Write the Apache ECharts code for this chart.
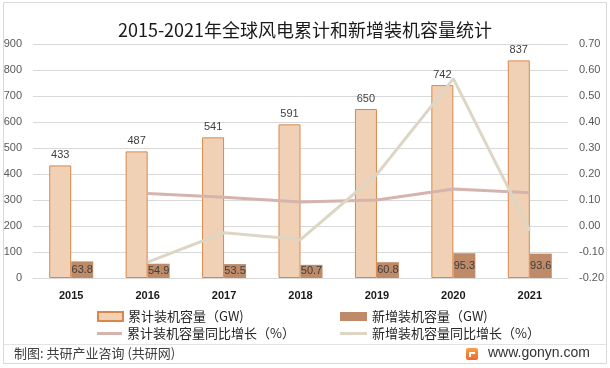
<!DOCTYPE html>
<html>
<head>
<meta charset="utf-8">
<script src="https://cdn.jsdelivr.net/npm/echarts@6/dist/echarts.min.js"></script>
<style>
html,body{margin:0;padding:0;background:#fff;}
#c{width:610px;height:368px;}
</style>
</head>
<body>
<div id="c"></div>
<script>
const years = ['2015','2016','2017','2018','2019','2020','2021'];
const cumCapacity = [433, 487, 541, 591, 650, 742, 837];
const newCapacity = [63.8, 54.9, 53.5, 50.7, 60.8, 95.3, 93.6];
const cumGrowth = [null, 0.125, 0.111, 0.092, 0.100, 0.142, 0.128];
const newGrowth = [null, -0.139, -0.026, -0.052, 0.199, 0.567, -0.018];
const seriesNames = ['累计装机容量（GW)', '新增装机容量（GW)', '累计装机容量同比增长（%）', '新增装机容量同比增长（%）'];

const CJK = '"Noto Sans CJK SC", "Liberation Sans", sans-serif';
const NUM = '"Liberation Sans", "Noto Sans", sans-serif';
const C_LIGHT = '#F1D1B5', C_LIGHT_B = '#D9884A', C_DARK = '#BE8A67', C_L1 = '#D4B4AC', C_L2 = '#DDD6C5';

const chart = echarts.init(document.getElementById('c'), null, {renderer: 'canvas'});
const legendText = {fontFamily: CJK, fontSize: 13, color: '#262626'};
chart.setOption({
  animation: false,
  backgroundColor: '#fff',
  title: {
    text: '2015-2021年全球风电累计和新增装机容量统计',
    left: 'center', top: 16,
    textStyle: {fontFamily: CJK, fontSize: 18, fontWeight: 'normal', color: '#1a1a1a'}
  },
  grid: {left: 33, right: 42, top: 44, bottom: 90, containLabel: false},
  legend: [
    {data: [seriesNames[0]], left: 92, top: 305, itemWidth: 25, itemHeight: 9, itemGap: 0, textStyle: legendText, icon: 'rect'},
    {data: [seriesNames[1]], left: 335, top: 305, itemWidth: 27, itemHeight: 9, itemGap: 0, textStyle: legendText, icon: 'rect'},
    {data: [seriesNames[2]], left: 92, top: 322, itemWidth: 25, itemHeight: 3, itemGap: 0, textStyle: legendText, icon: 'rect'},
    {data: [seriesNames[3]], left: 335, top: 322, itemWidth: 27, itemHeight: 3, itemGap: 0, textStyle: legendText, icon: 'rect'}
  ],
  xAxis: {
    type: 'category', data: years,
    axisLine: {lineStyle: {color: '#d9d9d9'}},
    axisTick: {show: false},
    axisLabel: {fontFamily: NUM, fontSize: 11, fontWeight: 'bold', color: '#1a1a1a', margin: 12}
  },
  yAxis: [
    {
      type: 'value', min: 0, max: 900, interval: 100,
      axisLine: {show: false}, axisTick: {show: false},
      splitLine: {lineStyle: {color: '#d9d9d9'}},
      axisLabel: {fontFamily: NUM, fontSize: 11, color: '#595959', margin: 11}
    },
    {
      type: 'value', min: -0.2, max: 0.7, interval: 0.1,
      axisLine: {show: false}, axisTick: {show: false},
      splitLine: {show: false},
      axisLabel: {fontFamily: NUM, fontSize: 11, color: '#595959', margin: 11,
        formatter: v => (Math.round(v * 100) / 100).toFixed(2)}
    }
  ],
  series: [
    {
      name: seriesNames[0], type: 'bar', data: cumCapacity, barWidth: 22, barGap: '0%',
      itemStyle: {color: C_LIGHT, borderColor: C_LIGHT_B, borderWidth: 1},
      label: {show: true, position: 'top', distance: 5, fontFamily: NUM, fontSize: 11, color: '#404040'},
      z: 2
    },
    {
      name: seriesNames[1], type: 'bar', data: newCapacity, barWidth: 22,
      itemStyle: {color: C_DARK},
      label: {show: true, position: 'inside', fontFamily: NUM, fontSize: 11, color: '#404040'},
      z: 2
    },
    {
      name: seriesNames[2], type: 'line', yAxisIndex: 1, data: cumGrowth,
      symbol: 'none', lineStyle: {color: C_L1, width: 3}, itemStyle: {color: C_L1}, z: 3
    },
    {
      name: seriesNames[3], type: 'line', yAxisIndex: 1, data: newGrowth,
      symbol: 'none', lineStyle: {color: C_L2, width: 3}, itemStyle: {color: C_L2}, z: 3
    }
  ],
  graphic: [
    {type: 'rect', shape: {x: 3.5, y: 2.5, width: 603, height: 361}, style: {fill: 'none', stroke: '#d9d9d9', lineWidth: 1}, silent: true},
    {type: 'line', shape: {x1: 4, y1: 344.5, x2: 606, y2: 344.5}, style: {stroke: '#e3e3e3', lineWidth: 1}, silent: true},
    {type: 'text', left: 14, top: 347, style: {text: '制图: 共研产业咨询 (共研网)', fontFamily: CJK, fontSize: 13, fill: '#404040'}},
    {type: 'rect', shape: {x: 466, y: 348, width: 12, height: 12, r: 2},
      style: {fill: new echarts.graphic.LinearGradient(0, 0, 0, 1, [{offset: 0, color: '#F7A04A'}, {offset: 1, color: '#EE6A2C'}])}},
    {type: 'rect', shape: {x: 469, y: 352, width: 6, height: 2}, style: {fill: '#fff'}},
    {type: 'rect', shape: {x: 469, y: 354, width: 2, height: 3}, style: {fill: '#fff'}},
    {type: 'text', left: 488, top: 346, style: {text: 'www.gonyn.com', fontFamily: NUM, fontSize: 14, fill: '#333'}}
  ]
});
</script>
</body>
</html>
